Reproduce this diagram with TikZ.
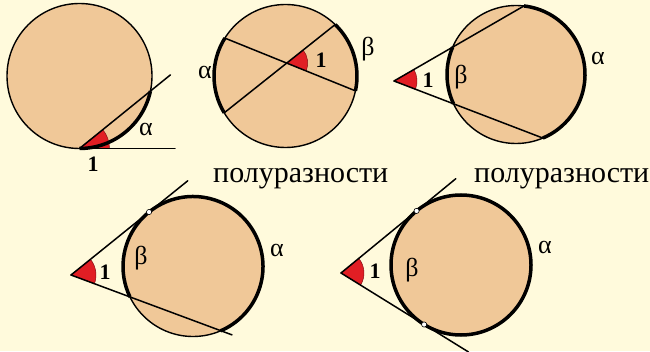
\documentclass[tikz,border=0pt]{standalone}
\usepackage{fontspec}
\setmainfont{Liberation Serif}
\usetikzlibrary{calc}
\definecolor{bg}{RGB}{255,250,220}
\definecolor{disk}{RGB}{240,200,152}
\definecolor{ang}{RGB}{225,30,36}
\begin{document}
\begin{tikzpicture}[x=1pt,y=1pt,
  ln/.style={line width=1.5pt,line cap=round},
  thk/.style={line width=3.5pt},
  diskfill/.style={fill=disk,draw=black,line width=1.4pt},
  sector/.style={fill=ang,draw=ang!60!black,line width=0.5pt},
  dot/.style={fill=white,draw=black,line width=0.6pt},
  greek/.style={font=\fontsize{26}{28}\selectfont,inner sep=0pt},
  num/.style={font=\fontsize{22}{24}\selectfont\bfseries,inner sep=0pt},
  word/.style={font=\fontsize{30}{33}\selectfont,inner sep=0pt,anchor=base west}]
\useasboundingbox (0,0) rectangle (650,351);
\fill[bg] (0,0) rectangle (650,351);
\clip (0,0) rectangle (650,351);
% ---------- figure 1 ----------
\coordinate (c1) at (79.5,275);
\coordinate (t1) at (79.5,202.5);
\coordinate (e1) at ($(c1)+(-12:72.5)$);
\coordinate (l1) at ($(t1)+(39:117)$);
\coordinate (h1) at (175,202.5);
\path[diskfill] (c1) circle[radius=72.5];
\path[sector] (t1) -- ++(0:30) arc[start angle=0,end angle=39,radius=30] -- cycle;
\draw[ln] (t1) -- (h1);
\draw[ln] (t1) -- (l1);
\draw[thk] (e1) arc[start angle=-12,end angle=-90,radius=72.5];
\node[greek] (al1) at (146,222) {α};
\node[num] (n1) at (93,187) {1};
% ---------- figure 2 ----------
\coordinate (c2) at (285.5,275);
\coordinate (a1) at ($(c2)+(148:71.5)$);
\coordinate (a2) at ($(c2)+(-12:71.5)$);
\coordinate (b1) at ($(c2)+(211:71.5)$);
\coordinate (b2) at ($(c2)+(46:71.5)$);
\path[diskfill] (c2) circle[radius=71.5];
\coordinate (i2) at (intersection of a1--a2 and b1--b2);
\path[sector] (i2) -- ++(-22:21) arc[start angle=-22,end angle=38.5,radius=21] -- cycle;
\draw[ln] (a1) -- (a2);
\draw[ln] (b1) -- (b2);
\draw[thk] (a1) arc[start angle=148,end angle=211,radius=71.5];
\draw[thk] (a2) arc[start angle=-12,end angle=46,radius=71.5];
\node[num] (n2) at (321,291) {1};
\node[greek] (be2) at (368,302) {β};
\node[greek] (al2) at (205,279) {α};
% ---------- figure 3 ----------
\coordinate (c3) at (516,276.5);
\coordinate (v3) at (394,270);
\coordinate (nu3) at ($(c3)+(156.6:69)$);
\coordinate (fu3) at ($(c3)+(83.4:69)$);
\coordinate (nl3) at ($(c3)+(205.2:69)$);
\coordinate (fl3) at ($(c3)+(-67.1:69)$);
\path[diskfill] (c3) circle[radius=69];
\path[sector] (v3) -- ++(-21:23) arc[start angle=-21,end angle=30,radius=23] -- cycle;
\draw[ln] (v3) -- (fu3);
\draw[ln] (v3) -- (fl3);
\draw[thk] (nu3) arc[start angle=156.6,end angle=205.2,radius=69];
\draw[thk] (fu3) arc[start angle=83.4,end angle=-67.1,radius=69];
\node[num] (n3) at (428,271) {1};
\node[greek] (be3) at (461,274) {β};
\node[greek] (al3) at (598,293) {α};
% ---------- words ----------
\node[word] (w1) at (213,168) {полуразности};
\node[word] (w2) at (474,168) {полуразности};
% ---------- figure 4 ----------
\coordinate (c4) at (193,84.5);
\coordinate (v4) at (71,76);
\coordinate (t4) at ($(c4)+(128.9:70)$);
\coordinate (s4) at ($(c4)+(-66.8:70)$);
\coordinate (u4) at ($(v4)+(38.9:150)$);
\coordinate (d4) at ($(v4)+(-20.4:171.8)$);
\path[diskfill] (c4) circle[radius=70];
\path[sector] (v4) -- ++(-20.4:25) arc[start angle=-20.4,end angle=38.9,radius=25] -- cycle;
\draw[ln] (v4) -- (u4);
\draw[ln] (v4) -- (d4);
\draw[thk] (s4) arc[start angle=-66.8,end angle=205.8,radius=70];
\path[dot] (t4) circle[radius=2.6];
\node[num] (n4) at (105,79) {1};
\node[greek] (be4) at (141,93) {β};
\node[greek] (al4) at (277,101) {α};
% ---------- figure 5 ----------
\coordinate (c5) at (461,86);
\coordinate (v5) at (341,78);
\coordinate (tu5) at ($(c5)+(129.4:70)$);
\coordinate (tl5) at ($(c5)+(-121.78:70)$);
\coordinate (u5) at ($(v5)+(39.4:148.5)$);
\coordinate (d5) at ($(v5)+(-31.78:150)$);
\path[fill=disk] (c5) circle[radius=70];
\path[sector] (v5) -- ++(-31.78:23) arc[start angle=-31.78,end angle=39.4,radius=23] -- cycle;
\draw[ln] (v5) -- (u5);
\draw[ln] (v5) -- (d5);
\draw[thk] (c5) circle[radius=70];
\path[dot] (tu5) circle[radius=2.6];
\path[dot] (tl5) circle[radius=2.6];
\node[num] (n5) at (375,80) {1};
\node[greek] (be5) at (412,81) {β};
\node[greek] (al5) at (545,104) {α};
\end{tikzpicture}
\end{document}
